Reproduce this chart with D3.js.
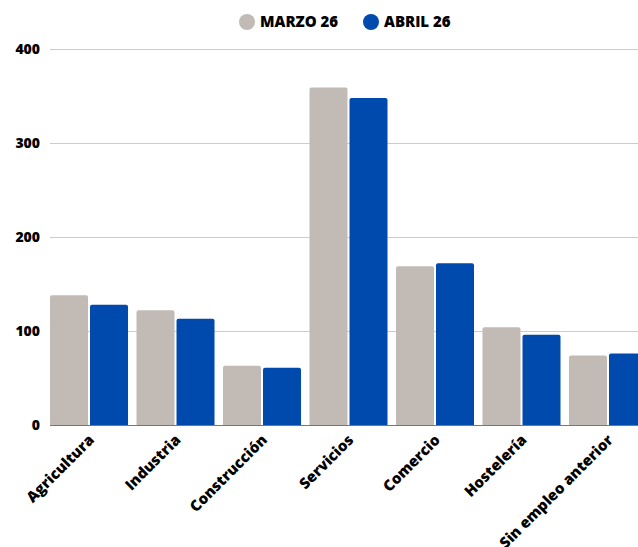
<!DOCTYPE html>
<html>
<head>
<meta charset="utf-8">
<script src="https://cdn.jsdelivr.net/npm/d3@7"></script>
<style>
  body { margin: 0; background: #fff; }
  text { font-family: "Open Sans", sans-serif; font-weight: 800; fill: #000; }
</style>
</head>
<body>
<div id="chart"></div>
<script>
// data
var categories = ["Agricultura", "Industria", "Construcción", "Servicios", "Comercio", "Hostelería", "Sin empleo anterior"];
var seriesNames = ["MARZO 26", "ABRIL 26"];
var marzo = [138, 122, 63, 359, 169, 104, 74];
var abril = [128, 113, 61, 348, 172, 96, 76];
var yTicks = [0, 100, 200, 300, 400];
var colors = ["#c2bab5", "#004aad"];

var width = 638, height = 547;
var margin = {top: 49, left: 50, bottom: 122};

var svg = d3.select("#chart")
    .append("svg")
    .attr("width", width)
    .attr("height", height);

var y = d3.scaleLinear()
    .domain([0, 400])
    .range([height - margin.bottom, margin.top]);

// groups: step ~86.5, last group runs past the right edge
var x0 = d3.scaleBand()
    .domain(categories)
    .range([margin.left, 647])
    .paddingInner(0.098)
    .paddingOuter(0);

var x1 = d3.scaleBand()
    .domain([0, 1])
    .range([0, x0.bandwidth()])
    .paddingInner(0.05);

// gridlines + y labels
var yAxis = d3.axisLeft(y)
    .tickValues(yTicks)
    .tickSize(-(width - margin.left))
    .tickPadding(10);

var gy = svg.append("g")
    .attr("transform", "translate(" + margin.left + ",0)")
    .call(yAxis);
gy.select(".domain").remove();
gy.selectAll(".tick line").attr("stroke", "#cccccc").attr("stroke-width", 1);
gy.selectAll(".tick text")
    .attr("font-size", "14px")
    .style("font-family", "'Open Sans', sans-serif")
    .style("font-weight", "800")
    .attr("fill", "#000");

// bars
var rows = categories.map(function (c, i) {
    return {cat: c, values: [marzo[i], abril[i]]};
});

var group = svg.selectAll(".grp")
    .data(rows)
    .join("g")
    .attr("class", "grp")
    .attr("transform", function (d) { return "translate(" + x0(d.cat) + ",0)"; });

group.selectAll("path")
    .data(function (d) { return d.values.map(function (v, k) { return {k: k, v: v}; }); })
    .join("path")
    .attr("fill", function (d) { return colors[d.k]; })
    .attr("d", function (d) {
        var bx = x1(d.k), bw = x1.bandwidth();
        var top = y(d.v), bottom = y(0), r = 2;
        return "M" + bx + "," + bottom +
            "V" + (top + r) +
            "Q" + bx + "," + top + " " + (bx + r) + "," + top +
            "H" + (bx + bw - r) +
            "Q" + (bx + bw) + "," + top + " " + (bx + bw) + "," + (top + r) +
            "V" + bottom + "Z";
    });

// baseline
svg.append("line")
    .attr("x1", margin.left)
    .attr("x2", width)
    .attr("y1", y(0) + 0.5)
    .attr("y2", y(0) + 0.5)
    .attr("stroke", "#777777")
    .attr("stroke-width", 1.2);

// category labels, rotated
svg.selectAll(".xlab")
    .data(categories)
    .join("text")
    .attr("class", "xlab")
    .attr("text-anchor", "end")
    .attr("font-size", "15px")
    .attr("transform", function (d) {
        var cx = x0(d) + x0.bandwidth() / 2 + 6;
        return "translate(" + cx + "," + 441 + ") rotate(-45)";
    })
    .text(function (d) { return d; });

// legend
var legendX = [247, 371];
var legend = svg.selectAll(".leg")
    .data(seriesNames)
    .join("g")
    .attr("class", "leg")
    .attr("transform", function (d, i) { return "translate(" + legendX[i] + ",22)"; });

legend.append("circle")
    .attr("r", 8)
    .attr("fill", function (d, i) { return colors[i]; });

legend.append("text")
    .attr("x", 13)
    .attr("dy", "0.36em")
    .attr("font-size", "15px")
    .text(function (d) { return d; });
</script>
</body>
</html>
